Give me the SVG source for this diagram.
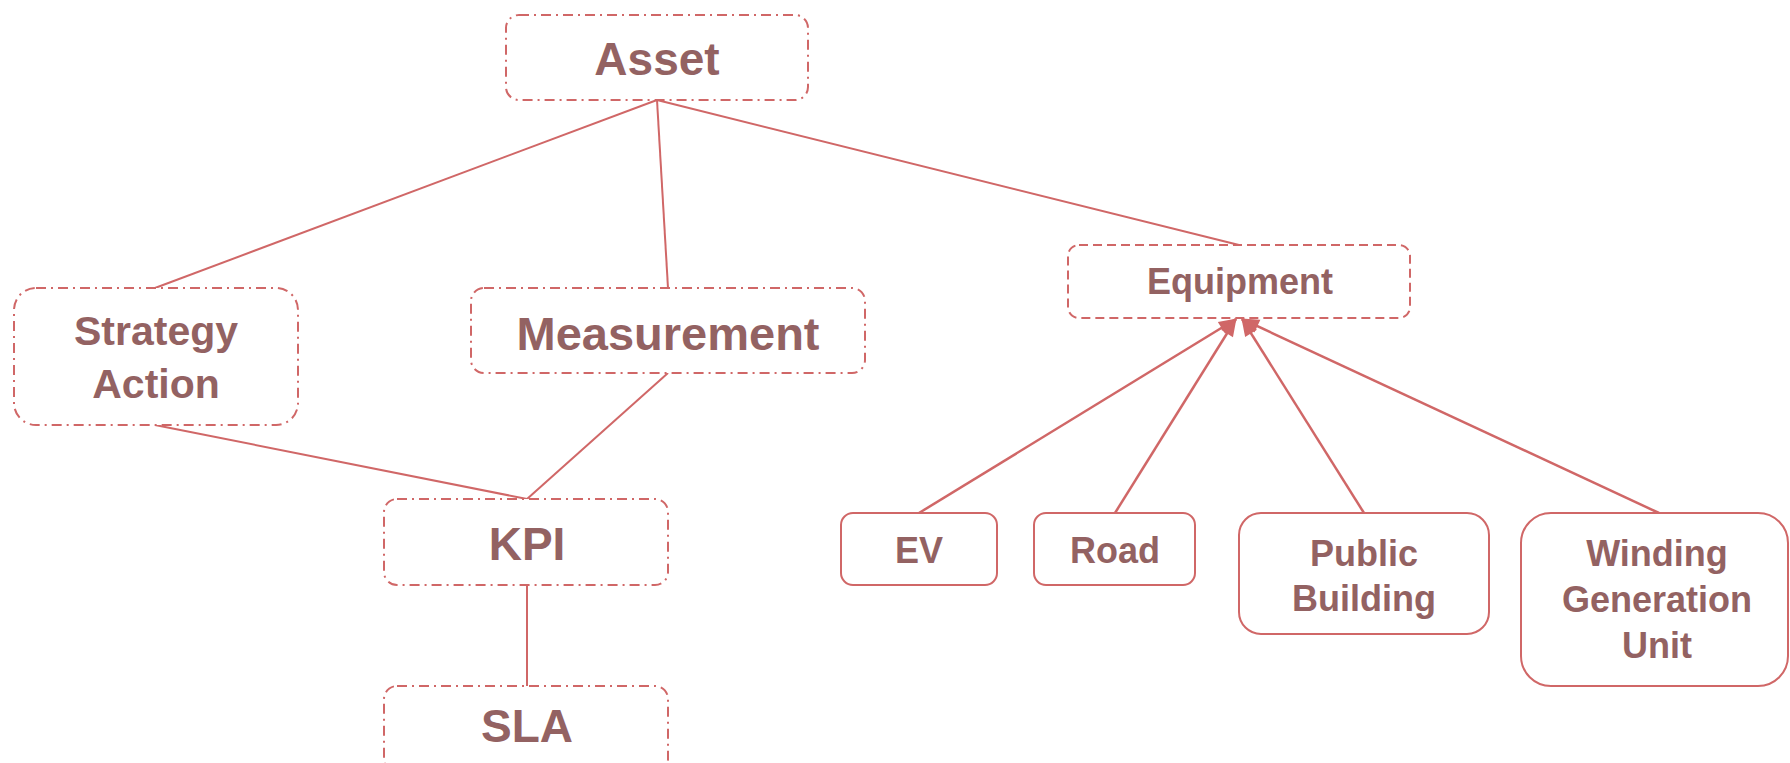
<svg xmlns="http://www.w3.org/2000/svg" width="1790" height="763" viewBox="0 0 1790 763">
<defs>
<style>
.box{fill:#fff;stroke:#d06767;stroke-width:2}
.dd{stroke-dasharray:10,5,2,5}
.da{stroke-dasharray:9,5}
.t{font-family:"Liberation Sans",Arial,sans-serif;font-weight:bold;fill:#936262;text-anchor:middle}
.ln{stroke:#d06767;stroke-width:2;fill:none}
.ln2{stroke:#d06767;stroke-width:2.5;fill:none}
</style>
<marker id="ah" markerWidth="18" markerHeight="14" refX="17" refY="7" markerUnits="userSpaceOnUse" orient="auto" overflow="visible">
<path d="M0,0 L18,7 L0,14 Z" fill="#d06767"/>
</marker>
</defs>
<rect width="1790" height="763" fill="#fff"/>
<g id="connectors">
<line class="ln" x1="657" y1="100" x2="155" y2="288"/>
<line class="ln" x1="657" y1="100" x2="668" y2="288"/>
<line class="ln" x1="657" y1="100" x2="1239" y2="245"/>
<line class="ln" x1="155" y1="425" x2="527" y2="499"/>
<line class="ln" x1="668" y1="373" x2="527" y2="499"/>
<line class="ln" x1="527" y1="585" x2="527" y2="686"/>
<line class="ln2" x1="919" y1="513" x2="1236" y2="319" marker-end="url(#ah)"/>
<line class="ln2" x1="1115" y1="513" x2="1236" y2="319" marker-end="url(#ah)"/>
<line class="ln2" x1="1364" y1="513" x2="1242" y2="319" marker-end="url(#ah)"/>
<line class="ln2" x1="1659" y1="513" x2="1242" y2="319" marker-end="url(#ah)"/>
</g>
<g id="asset">
<rect class="box dd" x="506" y="15" width="302" height="85" rx="13"/>
<text class="t" x="657" y="75" font-size="46">Asset</text>
</g>
<g id="strategy-action">
<rect class="box dd" x="14" y="288" width="284" height="137" rx="22"/>
<text class="t" x="156" y="345" font-size="41">Strategy</text>
<text class="t" x="156" y="398" font-size="41">Action</text>
</g>
<g id="measurement">
<rect class="box dd" x="471" y="288" width="394" height="85" rx="13"/>
<text class="t" x="668" y="350" font-size="47">Measurement</text>
</g>
<g id="kpi">
<rect class="box dd" x="384" y="499" width="284" height="86" rx="13"/>
<text class="t" x="527" y="560" font-size="46">KPI</text>
</g>
<g id="sla">
<rect class="box dd" x="384" y="686" width="284" height="86" rx="13"/>
<text class="t" x="527" y="742" font-size="46">SLA</text>
</g>
<g id="equipment">
<rect class="box da" x="1068" y="245" width="342" height="73" rx="11"/>
<text class="t" x="1240" y="294" font-size="36">Equipment</text>
</g>
<g id="ev">
<rect class="box" x="841" y="513" width="156" height="72" rx="12"/>
<text class="t" x="919" y="563" font-size="36">EV</text>
</g>
<g id="road">
<rect class="box" x="1034" y="513" width="161" height="72" rx="12"/>
<text class="t" x="1115" y="563" font-size="36">Road</text>
</g>
<g id="public-building">
<rect class="box" x="1239" y="513" width="250" height="121" rx="22"/>
<text class="t" x="1364" y="566" font-size="36">Public</text>
<text class="t" x="1364" y="611" font-size="36">Building</text>
</g>
<g id="winding-generation-unit">
<rect class="box" x="1521" y="513" width="267" height="173" rx="30"/>
<text class="t" x="1657" y="566" font-size="36">Winding</text>
<text class="t" x="1657" y="612" font-size="36">Generation</text>
<text class="t" x="1657" y="658" font-size="36">Unit</text>
</g>
</svg>
